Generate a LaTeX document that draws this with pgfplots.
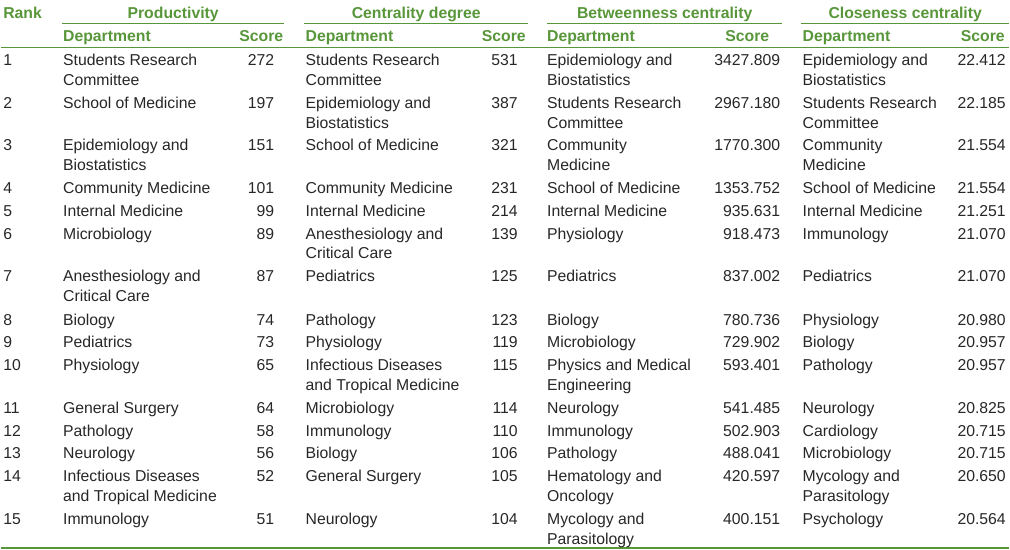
\documentclass[border=0pt]{standalone}
\usepackage{fontspec}
\setmainfont{Liberation Sans}
\usepackage{pgfplots}
\usepackage{pgfplotstable}
\pgfplotsset{compat=1.18}

\definecolor{hdr}{RGB}{88,150,58}
\definecolor{txt}{RGB}{40,38,38}

% y = baseline of the first line (pixels from top)
\pgfplotstableread[col sep=comma]{
y,r
65.5,1
108.5,2
150.5,3
193.5,4
216.5,5
239.5,6
282.5,7
326.5,8
348.5,9
371.5,10
414.5,11
437.5,12
459.5,13
482.5,14
525.5,15
}\ranks

\pgfplotstableread[col sep=comma]{
y,a,b,s
65.5,Students Research,Committee,272
108.5,School of Medicine,,197
150.5,Epidemiology and,Biostatistics,151
193.5,Community Medicine,,101
216.5,Internal Medicine,,99
239.5,Microbiology,,89
282.5,Anesthesiology and,Critical Care,87
326.5,Biology,,74
348.5,Pediatrics,,73
371.5,Physiology,,65
414.5,General Surgery,,64
437.5,Pathology,,58
459.5,Neurology,,56
482.5,Infectious Diseases,and Tropical Medicine,52
525.5,Immunology,,51
}\prod

\pgfplotstableread[col sep=comma]{
y,a,b,s
65.5,Students Research,Committee,531
108.5,Epidemiology and,Biostatistics,387
150.5,School of Medicine,,321
193.5,Community Medicine,,231
216.5,Internal Medicine,,214
239.5,Anesthesiology and,Critical Care,139
282.5,Pediatrics,,125
326.5,Pathology,,123
348.5,Physiology,,119
371.5,Infectious Diseases,and Tropical Medicine,115
414.5,Microbiology,,114
437.5,Immunology,,110
459.5,Biology,,106
482.5,General Surgery,,105
525.5,Neurology,,104
}\cent

\pgfplotstableread[col sep=comma]{
y,a,b,s
65.5,Epidemiology and,Biostatistics,3427.809
108.5,Students Research,Committee,2967.180
150.5,Community,Medicine,1770.300
193.5,School of Medicine,,1353.752
216.5,Internal Medicine,,935.631
239.5,Physiology,,918.473
282.5,Pediatrics,,837.002
326.5,Biology,,780.736
348.5,Microbiology,,729.902
371.5,Physics and Medical,Engineering,593.401
414.5,Neurology,,541.485
437.5,Immunology,,502.903
459.5,Pathology,,488.041
482.5,Hematology and,Oncology,420.597
525.5,Mycology and,Parasitology,400.151
}\betw

\pgfplotstableread[col sep=comma]{
y,a,b,s
65.5,Epidemiology and,Biostatistics,22.412
108.5,Students Research,Committee,22.185
150.5,Community,Medicine,21.554
193.5,School of Medicine,,21.554
216.5,Internal Medicine,,21.251
239.5,Immunology,,21.070
282.5,Pediatrics,,21.070
326.5,Physiology,,20.980
348.5,Biology,,20.957
371.5,Pathology,,20.957
414.5,Neurology,,20.825
437.5,Cardiology,,20.715
459.5,Microbiology,,20.715
482.5,Mycology and,Parasitology,20.650
525.5,Psychology,,20.564
}\clos

\pgfplotsset{
  cell/.style={draw=none, nodes near coords, point meta=explicit symbolic,
    every node near coord/.style={anchor=base west, inner sep=0pt, text=txt,
      font=\fontsize{11.85}{14}\selectfont}},
  num/.style={draw=none, nodes near coords, point meta=explicit symbolic,
    every node near coord/.style={anchor=base east, inner sep=0pt, text=txt,
      font=\fontsize{11.85}{14}\selectfont}},
}

% table, department x, score x (right edge)
\newcommand{\group}[3]{%
  \addplot[cell] table[x expr=#2, y=y, meta=a] {#1};
  \addplot[cell] table[x expr=#2, y expr=\thisrow{y}+20, meta=b] {#1};
  \addplot[num] table[x expr=#3, y=y, meta=s] {#1};
}

\begin{document}
\begin{tikzpicture}
\begin{axis}[
  scale only axis, width=757.5pt, height=413.25pt,
  xmin=0, xmax=1010, ymin=0, ymax=551, y dir=reverse,
  hide axis, clip=false,
]
\path (axis cs:0,0) rectangle (axis cs:1010,551);

% headers
\tikzset{hd/.style={inner sep=0pt, text=hdr, font=\fontsize{11.85}{14}\selectfont\bfseries}}
\node[hd, anchor=base west] at (axis cs:2,19) {Rank};
\node[hd, anchor=base] at (axis cs:172.5,19) {Productivity};
\node[hd, anchor=base] at (axis cs:416,19) {Centrality degree};
\node[hd, anchor=base] at (axis cs:665,19) {Betweenness centrality};
\node[hd, anchor=base] at (axis cs:906,19) {Closeness centrality};

\node[hd, anchor=base west] at (axis cs:62,42) {Department};
\node[hd, anchor=base east] at (axis cs:283,42) {Score};
\node[hd, anchor=base west] at (axis cs:305,42) {Department};
\node[hd, anchor=base east] at (axis cs:526,42) {Score};
\node[hd, anchor=base west] at (axis cs:547,42) {Department};
\node[hd, anchor=base east] at (axis cs:770,42) {Score};
\node[hd, anchor=base west] at (axis cs:803,42) {Department};
\node[hd, anchor=base east] at (axis cs:1006,42) {Score};

% rules
\draw[hdr, line width=0.75pt] (axis cs:61,23.5) -- (axis cs:284,23.5);
\draw[hdr, line width=0.75pt] (axis cs:304,23.5) -- (axis cs:528,23.5);
\draw[hdr, line width=0.75pt] (axis cs:547,23.5) -- (axis cs:783,23.5);
\draw[hdr, line width=0.75pt] (axis cs:802,23.5) -- (axis cs:1010,23.5);
\draw[hdr, line width=0.75pt] (axis cs:0,47.5) -- (axis cs:1010,47.5);
\draw[hdr, line width=1.5pt] (axis cs:0,549.5) -- (axis cs:1010,549.5);

% body
\addplot[cell] table[x expr=2, y=y, meta=r] {\ranks};
\group{\prod}{62}{274}
\group{\cent}{305}{518}
\group{\betw}{547}{781}
\group{\clos}{803}{1007}
\end{axis}
\end{tikzpicture}
\end{document}
